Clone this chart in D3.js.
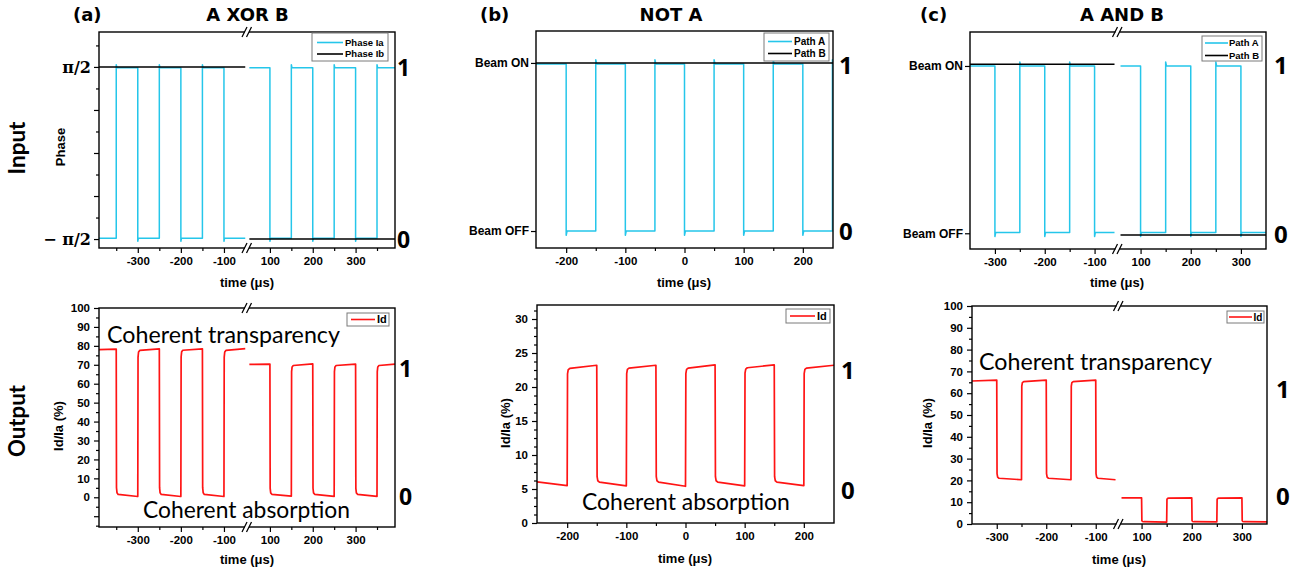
<!DOCTYPE html>
<html>
<head>
<meta charset="utf-8">
<script src="https://cdn.jsdelivr.net/npm/d3@7/dist/d3.min.js"></script>
<style>
html,body{margin:0;padding:0;background:#fff;}
svg{display:block;}
</style>
</head>
<body>
<svg id="chart" width="1314" height="576"></svg>
<script>
// ================= DATA =================
// (a) A XOR B  — phase in units of π, time in μs
const xorTimeLeft      = [-390, -350, -300, -250, -200, -150, -100, -50];
const xorTimeRight     = [52, 100, 150, 200, 250, 300, 350, 392];
const xorPhaseIaLeft   = [-0.495, 0.495, -0.495, 0.495, -0.495, 0.495, -0.495];
const xorPhaseIaRight  = [0.495, -0.495, 0.495, -0.495, 0.495, -0.495, 0.495];
const xorPhaseIbLeft   = [0.5];
const xorPhaseIbRight  = [-0.5];
const xorIdStartLeft   = [78.0, 1.2, 77.9, 1.2, 78.0, 1.2, 77.9];
const xorIdEndLeft     = [78.3, 0.4, 78.4, 0.4, 78.4, 0.4, 78.5];
const xorIdStartRight  = [70.2, 1.3, 69.9, 1.3, 69.9, 1.3, 69.9];
const xorIdEndRight    = [70.4, 0.6, 70.5, 0.5, 70.4, 0.5, 70.3];

// (b) NOT A — beam state (1 = ON, 0 = OFF), Id/Ia in %
const notTime      = [-251, -200, -150, -100, -50, 0, 50, 100, 150, 200, 250, 251];
const notPathA     = [0.994, 0, 0.994, 0, 0.994, 0, 0.994, 0, 0.994, 0, 0.994];
const notPathB     = [1];
const notIdTime    = [-251, -200, -150, -100, -50, 0, 50, 100, 150, 200, 251];
const notIdStart   = [6.05, 22.8, 5.95, 22.85, 5.95, 22.85, 5.95, 22.9, 5.95, 22.85];
const notIdEnd     = [5.5, 23.2, 5.45, 23.2, 5.4, 23.25, 5.45, 23.25, 5.5, 23.2];

// (c) A AND B
const andTimeLeft     = [-350, -300, -250, -200, -150, -100, -60];
const andTimeRight    = [60, 100, 150, 200, 250, 300, 350];
const andPathALeft    = [1.0, 0.004, 1.0, 0.004, 1.0, 0.004];
const andPathARight   = [1.0, 0.004, 1.0, 0.004, 1.0, 0.004];
const andPathBLeft    = [1.01];
const andPathBRight   = [-0.01];
const andIdStartLeft  = [65.6, 20.8, 65.5, 20.8, 65.5, 20.8];
const andIdEndLeft    = [66.0, 20.3, 66.0, 20.3, 66.0, 20.3];
const andIdStartRight = [12.0, 1.0, 11.9, 1.0, 11.9, 1.0];
const andIdEndRight   = [12.0, 0.9, 12.0, 1.0, 12.0, 1.0];

// Axis domains and ticks
const xorDomainLeft = [-390, -50], xorDomainRight = [50, 392];
const xorMajorLeft = [-300, -200, -100], xorMinorLeft = [-350, -250, -150];
const xorMajorRight = [100, 200, 300], xorMinorRight = [150, 250, 350];
const notDomain = [-251, 251];
const notMajor = [-200, -100, 0, 100, 200], notMinor = [-150, -50, 50, 150];
const andDomainLeft = [-350, -55], andDomainRight = [55, 350];
const andMajorLeft = [-300, -200, -100], andMinorLeft = [-250, -150];
const andMajorRight = [100, 200, 300], andMinorRight = [150, 250];

const phaseDomain = [-0.552, 0.703];
const phaseMajor = [-0.5, -0.25, 0, 0.25, 0.5], phaseMinor = [-0.375, -0.125, 0.125, 0.375, 0.625];
const phaseLabels = {"0.5": "π/2", "-0.5": "− π/2"};
const beamLabels = {"1": "Beam ON", "0": "Beam OFF"};
const xorOutDomain = [-15.7, 100];
const xorOutMajor = [-10, 0, 10, 20, 30, 40, 50, 60, 70, 80, 90, 100];
const xorOutMinor = [-15, -5, 5, 15, 25, 35, 45, 55, 65, 75, 85, 95];
const notOutDomain = [0, 32.06];
const notOutMajor = [0, 5, 10, 15, 20, 25, 30];
const notOutMinor = [1.25, 2.5, 3.75, 6.25, 7.5, 8.75, 11.25, 12.5, 13.75, 16.25, 17.5, 18.75, 21.25, 22.5, 23.75, 26.25, 27.5, 28.75, 31.25];
const andOutDomain = [0, 100];
const andOutMajor = [0, 10, 20, 30, 40, 50, 60, 70, 80, 90, 100];
const andOutMinor = [5, 15, 25, 35, 45, 55, 65, 75, 85, 95];

// ================= DRAWING =================
const svg = d3.select('#chart');
const defs = svg.append('defs');
const AX_FONT = '"Liberation Sans", Arial, Helvetica, sans-serif';
const TITLE_FONT = '"DejaVu Sans", Verdana, sans-serif';
const BIG_FONT = '"Open Sans", "Noto Sans", sans-serif';
const ANN_FONT = 'Lato, "Open Sans", sans-serif';
const CYAN = '#25c6ea', RED = '#ff1414', BLACK = '#000';
let clipId = 0;

// step trace with plateaus between edge times
function buildTrace(times, starts, ends, opt) {
  const pts = [];
  for (let i = 0; i < starts.length; i++) {
    const t0 = times[i], t1 = times[i + 1];
    const s = starts[i], e = ends ? ends[i] : s;
    if (i > 0) {
      const p = ends ? ends[i - 1] : starts[i - 1];
      pts.push([t0, p]);
      if (opt && opt.spike) {
        pts.push([t0, s + Math.sign(s - p) * opt.spike]);
        pts.push([t0 + 1.5, s]);
      } else {
        pts.push([t0 + 0.6, s - 0.05 * (s - p)]);
        pts.push([t0 + 1.8, s - 0.015 * (s - p)]);
        pts.push([t0 + 4.5, s - 0.004 * (s - p)]);
      }
    } else pts.push([t0, s]);
    pts.push([t1, e]);
  }
  return pts;
}

function styleAxis(sel, fs, ff) {
  sel.select('.domain').remove();
  sel.selectAll('line').attr('stroke', '#000').attr('stroke-width', 1.2);
  sel.selectAll('text').attr('fill', '#000').attr('font-family', ff || AX_FONT)
    .attr('font-weight', 'bold').attr('font-size', fs || 11.5);
}

function fitText(sel, target) {
  const w = sel.node().getComputedTextLength();
  const fs = parseFloat(sel.attr('font-size'));
  sel.attr('font-size', (fs * target / w).toFixed(2));
}

function drawBreak(g, x, yy) {
  g.append('rect').attr('x', x - 2).attr('y', yy - 2).attr('width', 4).attr('height', 4).attr('fill', '#fff');
  [-2.5, 2.0].forEach(dx => {
    g.append('line').attr('x1', x + dx - 2.5).attr('y1', yy + 5).attr('x2', x + dx + 2.5).attr('y2', yy - 5)
      .attr('stroke', '#000').attr('stroke-width', 1.3);
  });
}

function drawPanel(p) {
  const g = svg.append('g');
  const {x0, x1, y0, y1} = p.box;
  const y = d3.scaleLinear().domain(p.yDomain).range([y1, y0]);
  const xs = p.segs.map(s => d3.scaleLinear().domain(s.domain).range(s.range));

  // traces
  p.traces.forEach(tr => {
    const xsc = xs[tr.seg], s = p.segs[tr.seg];
    const id = 'clip' + (clipId++);
    defs.append('clipPath').attr('id', id).append('rect')
      .attr('x', s.range[0]).attr('y', y0).attr('width', s.range[1] - s.range[0]).attr('height', y1 - y0);
    const line = d3.line().x(d => xsc(d[0])).y(d => y(d[1]));
    g.append('path').attr('d', line(tr.points)).attr('fill', 'none')
      .attr('stroke', tr.color).attr('stroke-width', tr.width || 1.5)
      .attr('stroke-linejoin', 'round').attr('clip-path', `url(#${id})`);
  });

  // frame
  g.append('rect').attr('x', x0).attr('y', y0).attr('width', x1 - x0).attr('height', y1 - y0)
    .attr('fill', 'none').attr('stroke', '#000').attr('stroke-width', 1.4);

  // x axes
  p.segs.forEach((s, i) => {
    g.append('g').attr('transform', `translate(0,${y1})`)
      .call(d3.axisBottom(xs[i]).tickValues(s.major).tickSize(5).tickPadding(4).tickFormat(d => String(d)))
      .call(a => styleAxis(a));
    g.append('g').attr('transform', `translate(0,${y1})`)
      .call(d3.axisBottom(xs[i]).tickValues(s.minor).tickSize(3).tickFormat(''))
      .call(a => styleAxis(a));
  });
  // y axis
  g.append('g').attr('transform', `translate(${x0},0)`)
    .call(d3.axisLeft(y).tickValues(p.yMajor).tickSize(5).tickPadding(p.yPad || 4).tickFormat(p.yFormat))
    .call(a => styleAxis(a, p.yFontSize, p.yFont));
  if (p.yMinor) {
    g.append('g').attr('transform', `translate(${x0},0)`)
      .call(d3.axisLeft(y).tickValues(p.yMinor).tickSize(3).tickFormat(''))
      .call(a => styleAxis(a));
  }
  // breaks
  if (p.breakX) { drawBreak(g, p.breakX, y0); drawBreak(g, p.breakX, y1); }

  // x label
  g.append('text').attr('x', p.xLabel[0]).attr('y', p.xLabel[1]).attr('text-anchor', 'middle')
    .attr('font-family', AX_FONT).attr('font-weight', 'bold').attr('font-size', 13).text('time (μs)');
  // y label
  if (p.yLabel) {
    g.append('text').attr('transform', `translate(${p.yLabel.x},${p.yLabel.y}) rotate(-90)`)
      .attr('text-anchor', 'middle').attr('font-family', AX_FONT).attr('font-weight', 'bold')
      .attr('font-size', 13).text(p.yLabel.text);
  }
  // logic labels on the right
  p.logic.forEach(l => {
    g.append('text').attr('x', l.x).attr('y', l.cy + 0.357 * l.fs)
      .attr('font-family', BIG_FONT).attr('font-weight', 700).attr('font-size', l.fs).text(l.text);
  });
  // legend
  const L = p.legend;
  g.append('rect').attr('x', L.x).attr('y', L.y).attr('width', L.w).attr('height', L.h)
    .attr('fill', '#fff').attr('stroke', '#7a7a7a').attr('stroke-width', 1);
  L.items.forEach(it => {
    g.append('line').attr('x1', L.lx[0]).attr('x2', L.lx[1]).attr('y1', it.y).attr('y2', it.y)
      .attr('stroke', it.color).attr('stroke-width', 1.6);
    g.append('text').attr('x', L.tx).attr('y', it.y + 0.36 * L.fs).attr('font-family', AX_FONT)
      .attr('font-weight', 'bold').attr('font-size', L.fs).text(it.label);
  });
  // annotations
  (p.notes || []).forEach(n => {
    const t = g.append('text').attr('x', n.x).attr('y', n.y).attr('font-family', ANN_FONT)
      .attr('font-size', 22).attr('fill', '#000').text(n.text);
    fitText(t, n.w);
  });
}

const phaseFmt = d => phaseLabels[String(d)] || '';
const beamFmt = d => beamLabels[String(d)] || '';
const numFmt = d => (d >= 0 ? String(d) : '');

const panels = [
  { // (a) input
    box: {x0: 99, x1: 395, y0: 32, y1: 248},
    segs: [
      {domain: xorDomainLeft, range: [99, 245.5], major: xorMajorLeft, minor: xorMinorLeft},
      {domain: xorDomainRight, range: [248.5, 395], major: xorMajorRight, minor: xorMinorRight}],
    breakX: 247,
    yDomain: phaseDomain, yMajor: phaseMajor, yMinor: phaseMinor, yFormat: phaseFmt,
    yFont: '"DejaVu Serif", "Liberation Serif", serif', yFontSize: 16, yPad: 3,
    traces: [
      {seg: 0, color: CYAN, points: buildTrace(xorTimeLeft, xorPhaseIaLeft, null, {spike: 0.018})},
      {seg: 1, color: CYAN, points: buildTrace(xorTimeRight, xorPhaseIaRight, null, {spike: 0.018})},
      {seg: 0, color: BLACK, points: buildTrace([xorTimeLeft[0], xorTimeLeft[xorTimeLeft.length - 1]], xorPhaseIbLeft)},
      {seg: 1, color: BLACK, points: buildTrace([xorTimeRight[0], xorTimeRight[xorTimeRight.length - 1]], xorPhaseIbRight)}],
    xLabel: [247, 287],
    yLabel: {x: 65, y: 147, text: 'Phase'},
    logic: [{x: 397, cy: 68, fs: 23, text: '1'}, {x: 397, cy: 239.5, fs: 23, text: '0'}],
    legend: {x: 312, y: 33, w: 76, h: 28, lx: [317, 343], tx: 345, fs: 9.5,
      items: [{label: 'Phase Ia', color: CYAN, y: 42.5}, {label: 'Phase Ib', color: BLACK, y: 54}]}
  },
  { // (a) output
    box: {x0: 99, x1: 395, y0: 308, y1: 527},
    segs: [
      {domain: xorDomainLeft, range: [99, 245.5], major: xorMajorLeft, minor: xorMinorLeft},
      {domain: xorDomainRight, range: [248.5, 395], major: xorMajorRight, minor: xorMinorRight}],
    breakX: 247,
    yDomain: xorOutDomain, yMajor: xorOutMajor, yMinor: xorOutMinor, yFormat: numFmt,
    traces: [
      {seg: 0, color: RED, width: 1.7, points: buildTrace(xorTimeLeft, xorIdStartLeft, xorIdEndLeft)},
      {seg: 1, color: RED, width: 1.7, points: buildTrace(xorTimeRight, xorIdStartRight, xorIdEndRight)}],
    xLabel: [247, 564],
    yLabel: {x: 63, y: 426, text: 'Id/Ia (%)'},
    logic: [{x: 399, cy: 368.5, fs: 23, text: '1'}, {x: 399, cy: 497, fs: 23, text: '0'}],
    legend: {x: 347, y: 313, w: 42, h: 13, lx: [351, 375], tx: 377, fs: 11,
      items: [{label: 'Id', color: RED, y: 319.5}]},
    notes: [{x: 107, y: 343, w: 233, text: 'Coherent transparency'},
            {x: 143, y: 518, w: 207, text: 'Coherent absorption'}]
  },
  { // (b) input
    box: {x0: 536, x1: 833, y0: 31, y1: 248},
    segs: [{domain: notDomain, range: [536, 833], major: notMajor, minor: notMinor}],
    yDomain: [-0.101, 1.19], yMajor: [0, 1], yFormat: beamFmt, yFontSize: 12, yPad: 2,
    traces: [
      {seg: 0, color: CYAN, points: buildTrace(notTime, notPathA, null, {spike: 0.025})},
      {seg: 0, color: BLACK, points: buildTrace([notTime[0], notTime[notTime.length - 1]], notPathB)}],
    xLabel: [684, 287],
    logic: [{x: 839, cy: 65, fs: 24, text: '1'}, {x: 839, cy: 231, fs: 24, text: '0'}],
    legend: {x: 764, y: 33, w: 65, h: 28, lx: [768, 792], tx: 794, fs: 10,
      items: [{label: 'Path A', color: CYAN, y: 41.5}, {label: 'Path B', color: BLACK, y: 53.5}]}
  },
  { // (b) output
    box: {x0: 537, x1: 834, y0: 305, y1: 523},
    segs: [{domain: notDomain, range: [537, 834], major: notMajor, minor: notMinor}],
    yDomain: notOutDomain, yMajor: notOutMajor, yMinor: notOutMinor, yFormat: numFmt,
    traces: [
      {seg: 0, color: RED, width: 1.7, points: buildTrace(notIdTime, notIdStart, notIdEnd)}],
    xLabel: [685, 563],
    yLabel: {x: 510, y: 423, text: 'Id/Ia (%)'},
    logic: [{x: 841, cy: 370, fs: 24, text: '1'}, {x: 841, cy: 490.5, fs: 24, text: '0'}],
    legend: {x: 786, y: 309, w: 44, h: 14, lx: [790, 815], tx: 817, fs: 11,
      items: [{label: 'Id', color: RED, y: 316}]},
    notes: [{x: 582, y: 510, w: 208, text: 'Coherent absorption'}]
  },
  { // (c) input
    box: {x0: 970, x1: 1266, y0: 32, y1: 249},
    segs: [
      {domain: andDomainLeft, range: [970, 1117], major: andMajorLeft, minor: andMinorLeft},
      {domain: andDomainRight, range: [1118, 1266], major: andMajorRight, minor: andMinorRight}],
    breakX: 1117.5,
    yDomain: [-0.094, 1.203], yMajor: [0, 1], yFormat: beamFmt, yFontSize: 12, yPad: 2,
    traces: [
      {seg: 0, color: CYAN, points: buildTrace(andTimeLeft, andPathALeft, null, {spike: 0.024})},
      {seg: 1, color: CYAN, points: buildTrace(andTimeRight, andPathARight, null, {spike: 0.024})},
      {seg: 0, color: BLACK, points: buildTrace([andTimeLeft[0], andTimeLeft[andTimeLeft.length - 1]], andPathBLeft)},
      {seg: 1, color: BLACK, points: buildTrace([andTimeRight[0], andTimeRight[andTimeRight.length - 1]], andPathBRight)}],
    xLabel: [1117, 287],
    logic: [{x: 1274, cy: 65, fs: 24, text: '1'}, {x: 1274, cy: 234, fs: 24, text: '0'}],
    legend: {x: 1202, y: 36, w: 60, h: 25, lx: [1205, 1228], tx: 1229, fs: 9.5,
      items: [{label: 'Path A', color: CYAN, y: 43}, {label: 'Path B', color: BLACK, y: 55.5}]}
  },
  { // (c) output
    box: {x0: 972, x1: 1267, y0: 306, y1: 524},
    segs: [
      {domain: andDomainLeft, range: [972, 1118], major: andMajorLeft, minor: andMinorLeft},
      {domain: andDomainRight, range: [1119, 1267], major: andMajorRight, minor: andMinorRight}],
    breakX: 1118.5,
    yDomain: andOutDomain, yMajor: andOutMajor, yMinor: andOutMinor, yFormat: numFmt,
    traces: [
      {seg: 0, color: RED, width: 1.7, points: buildTrace(andTimeLeft, andIdStartLeft, andIdEndLeft)},
      {seg: 1, color: RED, width: 1.7, points: buildTrace(andTimeRight, andIdStartRight, andIdEndRight)}],
    xLabel: [1119, 564],
    yLabel: {x: 932, y: 423, text: 'Id/Ia (%)'},
    logic: [{x: 1276, cy: 389, fs: 24, text: '1'}, {x: 1276, cy: 496, fs: 24, text: '0'}],
    legend: {x: 1227, y: 311, w: 37, h: 12, lx: [1229, 1252], tx: 1253.5, fs: 10,
      items: [{label: 'Id', color: RED, y: 317}]},
    notes: [{x: 979, y: 370, w: 233, text: 'Coherent transparency'}]
  }
];

panels.forEach(drawPanel);

// titles
const titles = [
  {x: 73, text: '(a)', anchor: 'start'}, {x: 247.5, text: 'A XOR B', anchor: 'middle'},
  {x: 480, text: '(b)', anchor: 'start'}, {x: 671, text: 'NOT A', anchor: 'middle'},
  {x: 920, text: '(c)', anchor: 'start'}, {x: 1122, text: 'A AND B', anchor: 'middle'}];
titles.forEach(t => {
  svg.append('text').attr('x', t.x).attr('y', 20.5).attr('text-anchor', t.anchor)
    .attr('font-family', TITLE_FONT).attr('font-weight', 'bold').attr('font-size', 18).text(t.text);
});

// row labels
[{y: 148, text: 'Input', len: 53}, {y: 421, text: 'Output', len: 72}].forEach(r => {
  const t = svg.append('text').attr('transform', `translate(25,${r.y}) rotate(-90)`)
    .attr('text-anchor', 'middle').attr('font-family', ANN_FONT).attr('font-weight', 'bold')
    .attr('font-size', 22).text(r.text);
  fitText(t, r.len);
});
</script>
</body>
</html>
